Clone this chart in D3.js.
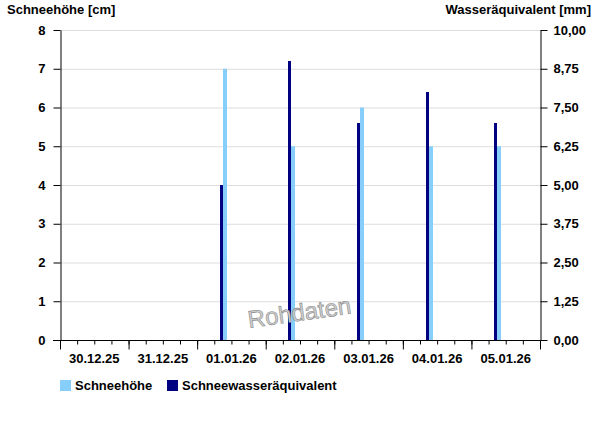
<!DOCTYPE html>
<html>
<head>
<meta charset="utf-8">
<script src="https://cdn.jsdelivr.net/npm/d3@7"></script>
<style>
  body { margin: 0; background: #fff; }
  text { font-family: "Liberation Sans", Arial, sans-serif; font-weight: bold; font-size: 13px; fill: #000; }
</style>
</head>
<body>
<svg id="chart" width="600" height="426"></svg>
<script>
// chart data
const days = ['2026-01-01', '2026-01-02', '2026-01-03', '2026-01-04', '2026-01-05']
const schneehoehe = [7, 5, 6, 5, 5] // cm
const wasseraequivalent = [5.0, 9.0, 7.0, 8.0, 7.0] // mm
const leftTicks = [0, 1, 2, 3, 4, 5, 6, 7, 8]
const rightTicks = [0, 1.25, 2.5, 3.75, 5, 6.25, 7.5, 8.75, 10]
const dayLabels = ['30.12.25', '31.12.25', '01.01.26', '02.01.26', '03.01.26', '04.01.26', '05.01.26']

const svg = d3.select('#chart')
const margin = { left: 60, right: 60, top: 30, bottom: 86 }
const width = 600 - margin.left - margin.right
const height = 426 - margin.top - margin.bottom

const parse = d3.timeParse('%Y-%m-%d %H:%M')
const x = d3.scaleTime()
  .domain([parse('2025-12-30 00:00'), parse('2026-01-06 00:00')])
  .range([margin.left, margin.left + width])
const yL = d3.scaleLinear().domain([0, 8]).range([margin.top + height, margin.top])
const yR = d3.scaleLinear().domain([0, 10]).range([margin.top + height, margin.top])

// grid lines
svg.append('g')
  .selectAll('line')
  .data(leftTicks.slice(1))
  .enter()
  .append('line')
  .attr('x1', margin.left).attr('x2', margin.left + width)
  .attr('y1', d => yL(d) + 0.5).attr('y2', d => yL(d) + 0.5)
  .attr('stroke', '#dddddd')

// bars: observations at 09:00
const obs = days.map((d, i) => ({ t: parse(d + ' 09:00'), cm: schneehoehe[i], mm: wasseraequivalent[i] }))

svg.append('g').selectAll('rect')
  .data(obs).enter().append('rect')
  .attr('x', d => Math.round(x(d.t)) - 3)
  .attr('width', 3)
  .attr('y', d => yR(d.mm))
  .attr('height', d => yR(0) - yR(d.mm))
  .attr('fill', '#000080')

svg.append('g').selectAll('rect')
  .data(obs).enter().append('rect')
  .attr('x', d => Math.round(x(d.t)))
  .attr('width', 4)
  .attr('y', d => yL(d.cm))
  .attr('height', d => yL(0) - yL(d.cm))
  .attr('fill', '#87cefa')

// watermark
svg.append('text')
  .attr('transform', 'translate(249,328) rotate(-8)')
  .style('font-size', '24px')
  .style('font-weight', 'normal')
  .style('fill', '#d0d0d0')
  .style('stroke', '#8a8a8a')
  .style('stroke-width', '0.6')
  .text('Rohdaten')

// axes
svg.append('g')
  .attr('transform', `translate(${margin.left + 0.5},0)`)
  .call(d3.axisLeft(yL).tickValues(leftTicks).tickSize(7).tickPadding(8).tickSizeOuter(0))
svg.append('g')
  .attr('transform', `translate(${margin.left + width + 0.5},0)`)
  .call(d3.axisRight(yR).tickValues(rightTicks).tickSize(7).tickPadding(6).tickSizeOuter(0)
    .tickFormat(d => d3.format('.2f')(d).replace('.', ',')))

// x axis: minor 6h ticks, major day ticks, labels at noon
const xg = svg.append('g').attr('transform', `translate(0,${margin.top + height + 0.5})`)
xg.call(d3.axisBottom(x).ticks(d3.timeHour.every(6)).tickSize(4).tickFormat('').tickSizeOuter(0))
xg.append('g').call(d3.axisBottom(x).ticks(d3.timeDay.every(1)).tickSize(9).tickFormat('').tickSizeOuter(0))
xg.selectAll('.domain').attr('d', `M${margin.left - 7},0H${margin.left + width}`)

xg.append('g').selectAll('text')
  .data(dayLabels).enter().append('text')
  .attr('x', (d, i) => x(d3.timeHour.offset(x.domain()[0], 24 * i + 12)))
  .attr('y', 22)
  .attr('text-anchor', 'middle')
  .text(d => d)

svg.selectAll('.domain, .tick line').attr('stroke', '#000')
svg.selectAll('.tick text').style('font-family', '"Liberation Sans", Arial, sans-serif')
  .style('font-weight', 'bold').style('font-size', '13px').attr('fill', '#000')

// axis titles
svg.append('text').attr('x', 7).attr('y', 14).text('Schneehöhe [cm]')
svg.append('text').attr('x', 591).attr('y', 14).attr('text-anchor', 'end').text('Wasseräquivalent [mm]')

// legend
const legend = [
  { label: 'Schneehöhe', color: '#87cefa', x: 60 },
  { label: 'Schneewasseräquivalent', color: '#000080', x: 167 }
]
const lg = svg.append('g').selectAll('g').data(legend).enter().append('g')
lg.append('rect').attr('x', d => d.x).attr('y', 380).attr('width', 11).attr('height', 11).attr('fill', d => d.color)
lg.append('text').attr('x', d => d.x + 15).attr('y', 390).text(d => d.label)
</script>
</body>
</html>
